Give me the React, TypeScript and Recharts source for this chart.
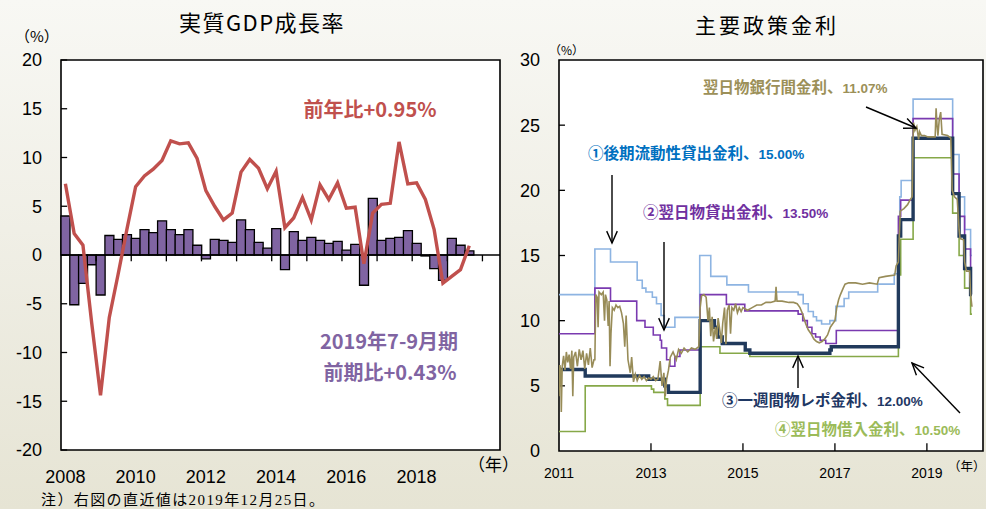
import React from 'react';
import { ComposedChart, Bar, Line, XAxis, YAxis, CartesianGrid, ReferenceLine, ReferenceArea } from 'recharts';

// ---- left: real GDP growth (quarterly) ----
const YEARS = [2008, 2009, 2010, 2011, 2012, 2013, 2014, 2015, 2016, 2017, 2018, 2019, 2020];
const QUARTERS = YEARS.flatMap((y) => ['Q1', 'Q2', 'Q3', 'Q4'].map((q) => `${y}${q}`)).slice(0, 50);
const GDP_QOQ = [
  4.0, -5.1, -2.9, -1.0, -4.1, 2.0, 1.6, 2.1, 1.7, 2.6, 2.3, 3.5, 2.6, 2.1, 2.6, 1.0,
  -0.4, 1.6, 1.5, 1.3, 3.6, 2.6, 1.3, 0.7, 2.7, -1.5, 2.4, 1.5, 1.8, 1.5, 1.2, 1.4,
  0.5, 1.1, -3.1, 5.8, 1.5, 1.7, 1.8, 2.5, 1.2, -0.1, -1.4, -2.6, 1.7, 1.0, 0.43,
];
const GDP_YOY = [
  7.3, 2.2, 1.0, -7.0, -14.4, -6.4, -2.0, 2.6, 7.0, 8.1, 8.8, 9.7, 11.7, 11.4, 11.5, 9.9,
  6.6, 5.0, 3.6, 4.3, 8.5, 9.8, 8.9, 6.8, 8.6, 2.8, 3.8, 5.9, 3.6, 7.2, 5.7, 7.4,
  4.8, 4.9, -0.9, 4.3, 5.2, 5.3, 11.6, 7.3, 7.4, 5.7, 2.6, -2.9, -2.2, -1.5, 0.95,
];
const GDP_YEAR_TICKS = ['2008Q1', '2010Q1', '2012Q1', '2014Q1', '2016Q1', '2018Q1'];
const GDP_Y_TICKS = [-20, -15, -10, -5, 0, 5, 10, 15, 20];
const YEAR_STARTS = [4, 8, 12, 16, 20, 24, 28, 32, 36, 40, 44, 48];

// ---- right: policy rates (daily, step changes) ----
const LATE_LIQUIDITY: [number, number][] = [
  [2011.0, 12.0], [2011.78, 15.5], [2012.12, 14.5], [2012.7, 13.1], [2012.81, 12.5], [2012.89, 12.2],
  [2013.03, 11.8], [2013.12, 11.3], [2013.22, 10.4], [2013.29, 9.5], [2013.52, 10.25], [2014.06, 15.0],
  [2014.3, 13.4], [2014.65, 12.75], [2015.12, 12.2], [2016.2, 12.0], [2016.31, 11.3], [2016.42, 10.7],
  [2016.53, 10.3], [2016.6, 10.0], [2016.71, 9.75], [2016.89, 10.0], [2017.02, 11.1], [2017.2, 11.7],
  [2017.3, 12.2], [2017.93, 12.8], [2018.29, 13.6], [2018.38, 16.5], [2018.41, 19.5], [2018.44, 20.75],
  [2018.7, 27.0], [2019.56, 22.75], [2019.7, 19.5], [2019.82, 17.0], [2019.95, 15.0], [2019.98, 15.0],
];
const ON_LENDING: [number, number][] = [
  [2011.0, 9.0], [2011.78, 12.5], [2012.12, 11.5], [2012.69, 10.0], [2012.87, 9.5], [2013.05, 8.9],
  [2013.2, 8.5], [2013.23, 7.9], [2013.34, 7.0], [2013.41, 6.5], [2013.52, 7.25], [2013.63, 7.75],
  [2014.07, 12.0], [2014.64, 11.25], [2015.04, 10.75], [2016.2, 10.5], [2016.3, 10.0], [2016.4, 9.5],
  [2016.5, 9.0], [2016.58, 8.75], [2016.68, 8.5], [2016.8, 8.25], [2017.03, 9.25], [2018.38, 18.0],
  [2018.43, 19.25], [2018.7, 25.5], [2019.56, 21.25], [2019.7, 18.0], [2019.82, 15.5], [2019.95, 13.5],
  [2019.98, 13.5],
];
const ONE_WEEK_REPO: [number, number][] = [
  [2011.0, 6.25], [2011.57, 5.75], [2012.95, 5.5], [2013.3, 5.0], [2013.38, 4.5], [2014.07, 10.0],
  [2014.38, 9.5], [2014.45, 8.75], [2014.55, 8.25], [2015.05, 7.75], [2015.15, 7.5], [2016.89, 7.75],
  [2016.92, 8.0], [2018.38, 16.5], [2018.43, 17.75], [2018.7, 24.0], [2019.56, 19.75], [2019.7, 16.5],
  [2019.82, 14.0], [2019.95, 12.0], [2019.98, 12.0],
];
const ON_BORROWING: [number, number][] = [
  [2011.0, 1.5], [2011.57, 5.0], [2013.01, 4.75], [2013.06, 4.5], [2013.3, 4.0], [2013.36, 3.5],
  [2014.07, 8.0], [2014.5, 7.5], [2015.15, 7.25], [2018.38, 13.5], [2018.43, 16.25], [2018.7, 22.5],
  [2019.56, 18.25], [2019.7, 15.0], [2019.82, 12.5], [2019.95, 10.5], [2019.98, 10.5],
];
const INTERBANK: [number, number][] = [
  [2011.0, 4.2], [2011.02, 6.6], [2011.04, 6.0], [2011.05, 3.0], [2011.07, 6.5], [2011.1, 7.3],
  [2011.13, 6.2], [2011.16, 7.6], [2011.19, 6.8], [2011.22, 7.4], [2011.25, 6.3], [2011.28, 7.7],
  [2011.3, 4.2], [2011.32, 7.2], [2011.36, 7.6], [2011.4, 6.5], [2011.44, 7.8], [2011.48, 7.0],
  [2011.52, 7.7], [2011.56, 6.3], [2011.6, 7.5], [2011.64, 6.6], [2011.68, 7.9], [2011.72, 6.4],
  [2011.76, 7.0], [2011.78, 7.0], [2011.8, 12.0], [2011.83, 11.8], [2011.85, 9.5], [2011.87, 12.2],
  [2011.92, 12.0], [2011.96, 12.2], [2011.99, 10.0], [2012.01, 12.0], [2012.04, 11.6], [2012.07, 9.6],
  [2012.09, 11.5], [2012.11, 6.5], [2012.13, 9.0], [2012.16, 11.0], [2012.2, 10.8], [2012.24, 11.2],
  [2012.28, 11.0], [2012.32, 11.1], [2012.36, 10.6], [2012.4, 9.8], [2012.43, 8.0], [2012.46, 10.4],
  [2012.5, 7.0], [2012.55, 6.0], [2012.58, 7.2], [2012.62, 5.3], [2012.66, 5.9], [2012.7, 5.4],
  [2012.75, 5.8], [2012.8, 5.5], [2012.85, 5.7], [2012.9, 5.4], [2012.95, 5.6], [2013.0, 5.5],
  [2013.05, 5.7], [2013.1, 5.4], [2013.15, 5.5], [2013.2, 6.9], [2013.24, 5.0], [2013.28, 6.0],
  [2013.31, 4.2], [2013.34, 5.5], [2013.38, 6.2], [2013.42, 7.2], [2013.48, 7.6], [2013.55, 7.0],
  [2013.6, 7.8], [2013.66, 7.5], [2013.72, 7.9], [2013.8, 7.6], [2013.88, 7.9], [2013.96, 7.8],
  [2014.04, 8.0], [2014.07, 11.0], [2014.1, 11.9], [2014.15, 12.0], [2014.2, 11.8], [2014.24, 10.0],
  [2014.27, 11.0], [2014.3, 8.8], [2014.33, 10.3], [2014.36, 8.4], [2014.4, 9.5], [2014.43, 8.6],
  [2014.46, 10.2], [2014.5, 9.2], [2014.53, 8.3], [2014.56, 9.8], [2014.6, 11.0], [2014.63, 8.2],
  [2014.66, 10.8], [2014.7, 11.2], [2014.73, 9.0], [2014.76, 11.0], [2014.8, 10.8], [2014.84, 11.3],
  [2014.88, 10.6], [2014.92, 11.0], [2014.96, 10.7], [2015.0, 11.0], [2015.1, 10.8], [2015.2, 11.0],
  [2015.3, 11.2], [2015.4, 11.2], [2015.5, 11.4], [2015.6, 11.4], [2015.7, 11.5], [2015.72, 12.6],
  [2015.74, 11.5], [2015.85, 11.5], [2016.0, 11.4], [2016.1, 11.4], [2016.18, 11.3], [2016.24, 11.0],
  [2016.3, 10.5], [2016.36, 9.8], [2016.42, 9.3], [2016.48, 9.0], [2016.54, 8.6], [2016.6, 8.4],
  [2016.66, 8.3], [2016.72, 8.4], [2016.78, 8.6], [2016.84, 8.9], [2016.9, 9.5], [2016.96, 9.8],
  [2017.0, 10.0], [2017.04, 11.0], [2017.08, 11.6], [2017.12, 12.0], [2017.18, 12.5], [2017.22, 12.8],
  [2017.3, 12.9], [2017.45, 12.9], [2017.6, 12.8], [2017.75, 12.9], [2017.92, 12.8], [2017.96, 13.3],
  [2018.1, 13.4], [2018.3, 13.5], [2018.33, 14.2], [2018.38, 14.5], [2018.4, 16.5], [2018.42, 18.4],
  [2018.5, 18.6], [2018.58, 18.9], [2018.64, 19.3], [2018.68, 19.5], [2018.7, 24.0], [2018.71, 25.2],
  [2018.74, 24.6], [2018.78, 24.9], [2018.82, 23.9], [2018.84, 24.5], [2018.88, 24.2], [2018.95, 24.2],
  [2019.02, 24.1], [2019.1, 24.1], [2019.18, 24.1], [2019.2, 26.3], [2019.22, 25.0], [2019.24, 24.2],
  [2019.27, 25.5], [2019.3, 26.0], [2019.33, 24.3], [2019.45, 24.2], [2019.52, 24.0], [2019.55, 20.0],
  [2019.6, 19.5], [2019.66, 19.3], [2019.7, 17.0], [2019.72, 16.3], [2019.8, 16.2], [2019.82, 14.5],
  [2019.86, 13.8], [2019.93, 13.8], [2019.95, 12.0], [2019.98, 11.07],
];
const RATE_X_TICKS = [2011, 2013, 2015, 2017, 2019];
const RATE_Y_TICKS = [0, 5, 10, 15, 20, 25, 30];

const JP = "'Noto Sans CJK JP', 'Noto Sans', sans-serif";
const NUM = "'Liberation Sans', Arial, sans-serif";

const gdpData = QUARTERS.map((q, i) => ({
  q,
  idx: i + 0.5,
  qoq: i < GDP_QOQ.length ? GDP_QOQ[i] : null,
  yoy: i < GDP_YOY.length ? GDP_YOY[i] : null,
}));
const toPts = (arr: [number, number][]) => arr.map(([t, v]) => ({ t, v }));

function Arrow({ x1, y1, x2, y2 }: { x1: number; y1: number; x2: number; y2: number }) {
  const a = Math.atan2(y2 - y1, x2 - x1);
  const L = 13;
  const w = 0.42;
  const p1 = `${x2 - L * Math.cos(a - w)},${y2 - L * Math.sin(a - w)}`;
  const p2 = `${x2 - L * Math.cos(a + w)},${y2 - L * Math.sin(a + w)}`;
  return (
    <g stroke="#000" strokeWidth={1.4} fill="none">
      <line x1={x1} y1={y1} x2={x2} y2={y2} />
      <polyline points={`${p1} ${x2},${y2} ${p2}`} />
    </g>
  );
}

function GdpChart() {
  return (
    <ComposedChart width={510} height={509} data={gdpData} margin={{ top: 60, right: 10, bottom: 29, left: 16 }} barCategoryGap={0}>
      <CartesianGrid horizontal={false} vertical={false} fill="#fff" />
      <XAxis
        dataKey="q"
        ticks={GDP_YEAR_TICKS}
        interval={0}
        tickFormatter={(q: string) => (GDP_YEAR_TICKS.includes(q) ? q.slice(0, 4) : '')}
        axisLine={false}
        tickLine={false}
        tickSize={0}
        tickMargin={20}
        height={30}
        tick={{ fill: '#000', fontSize: 18, fontFamily: NUM }}
      />
      <XAxis xAxisId="num" dataKey="idx" type="number" domain={[0, 50]} hide allowDataOverflow />
      <YAxis
        domain={[-20, 20]}
        ticks={GDP_Y_TICKS}
        width={45}
        axisLine={false}
        tickLine={false}
        tickSize={0}
        tickMargin={19}
        tick={{ fill: '#000', fontSize: 18, fontFamily: NUM }}
      />
      <Bar dataKey="qoq" fill="#8064a2" stroke="#000" strokeWidth={1.3} isAnimationActive={false} />
      <ReferenceLine y={0} stroke="#000" strokeWidth={1.6} />
      {YEAR_STARTS.map((k) => (
        <ReferenceLine key={k} xAxisId="num" segment={[{ x: k, y: 0 }, { x: k, y: -0.65 }]} stroke="#000" strokeWidth={1.3} />
      ))}
      {GDP_Y_TICKS.map((v) => (
        <ReferenceLine key={`y${v}`} xAxisId="num" segment={[{ x: 0, y: v }, { x: 0.7, y: v }]} stroke="#000" strokeWidth={1.3} />
      ))}
      <Line dataKey="yoy" stroke="#c0504d" strokeWidth={3.4} dot={false} isAnimationActive={false} />
      <ReferenceArea xAxisId="num" x1={0} x2={50} y1={-20} y2={20} fill="none" stroke="#000" strokeWidth={1.6} />
    </ComposedChart>
  );
}

function RateChart() {
  return (
    <ComposedChart width={486} height={509} margin={{ top: 60, right: 3, bottom: 28, left: 19 }}>
      <CartesianGrid horizontal={false} vertical={false} fill="#fff" />
      <XAxis
        dataKey="t"
        type="number"
        domain={[2011, 2020.22]}
        ticks={RATE_X_TICKS}
        allowDataOverflow
        axisLine={false}
        tickLine={false}
        tickSize={0}
        tickMargin={17}
        height={30}
        tick={{ fill: '#000', fontSize: 14, fontFamily: NUM }}
      />
      <YAxis
        domain={[0, 30]}
        ticks={RATE_Y_TICKS}
        width={40}
        axisLine={false}
        tickLine={false}
        tickSize={0}
        tickMargin={19}
        tick={{ fill: '#000', fontSize: 18, fontFamily: NUM }}
      />
      {RATE_X_TICKS.slice(1).map((t) => (
        <ReferenceLine key={t} segment={[{ x: t, y: 0 }, { x: t, y: 0.6 }]} stroke="#000" strokeWidth={1.3} />
      ))}
      {RATE_Y_TICKS.slice(1, -1).map((v) => (
        <ReferenceLine key={`y${v}`} segment={[{ x: 2011, y: v }, { x: 2011.13, y: v }]} stroke="#000" strokeWidth={1.3} />
      ))}
      <Line data={toPts(LATE_LIQUIDITY)} dataKey="v" type="stepAfter" stroke="#8db4e2" strokeWidth={1.6} dot={false} isAnimationActive={false} />
      <Line data={toPts(ON_BORROWING)} dataKey="v" type="stepAfter" stroke="#86a848" strokeWidth={1.6} dot={false} isAnimationActive={false} />
      <Line data={toPts(ON_LENDING)} dataKey="v" type="stepAfter" stroke="#7a3ab0" strokeWidth={1.6} dot={false} isAnimationActive={false} />
      <Line data={toPts(ONE_WEEK_REPO)} dataKey="v" type="stepAfter" stroke="#213a5c" strokeWidth={3.4} dot={false} isAnimationActive={false} />
      <Line data={toPts(INTERBANK)} dataKey="v" type="linear" stroke="#988c58" strokeWidth={1.6} dot={false} isAnimationActive={false} />
      <ReferenceArea x1={2011} x2={2020.22} y1={0} y2={30} fill="none" stroke="#000" strokeWidth={1.6} />
    </ComposedChart>
  );
}

function Note({ x, y, color, jp, num }: { x: number; y: number; color: string; jp: string; num: string }) {
  return (
    <text x={x} y={y} fill={color} fontFamily={JP} fontWeight="bold" fontSize={15.5}>
      {jp}
      <tspan fontFamily={NUM} fontSize={13.5}>{num}</tspan>
    </text>
  );
}

export default function App() {
  return (
    <div
      style={{
        position: 'absolute',
        left: 0,
        top: 0,
        width: 986,
        height: 509,
        overflow: 'hidden',
        background: 'linear-gradient(to bottom, #f8f8f4 0%, #f0efe6 45%, #e6e4d4 100%)',
      }}
    >
      <div style={{ position: 'absolute', left: 0, top: 0 }}>
        <GdpChart />
      </div>
      <div style={{ position: 'absolute', left: 500, top: 0 }}>
        <RateChart />
      </div>
      <svg width={986} height={509} style={{ position: 'absolute', left: 0, top: 0, pointerEvents: 'none' }}>
        <text x={262} y={31} textAnchor="middle" fontFamily={JP} fontSize={22} letterSpacing={1.5} fill="#000">実質GDP成長率</text>
        <text x={767} y={33} textAnchor="middle" fontFamily={JP} fontSize={21} letterSpacing={3} fill="#000">主要政策金利</text>
        <text x={15} y={42} fontFamily={JP} fontSize={15} fill="#000">（%）</text>
        <text x={549} y={55} fontFamily={JP} fontSize={12} fill="#000">（%）</text>
        <text x={468} y={471} fontFamily={JP} fontSize={17} fill="#000">（年）</text>
        <text x={948} y={471} fontFamily={JP} fontSize={12.5} fill="#000">（年）</text>
        <text x={41} y={505} fontFamily={"'Liberation Serif', 'Noto Sans CJK JP', serif"} fontSize={15} letterSpacing={1.4} fill="#000">注）右図の直近値は2019年12月25日。</text>

        <text x={370} y={117} textAnchor="middle" fontFamily={JP} fontWeight="bold" fontSize={20} fill="#c0504d">前年比+0.95%</text>
        <text x={389} y={349} textAnchor="middle" fontFamily={JP} fontWeight="bold" fontSize={20} fill="#8064a2">2019年7-9月期</text>
        <text x={390} y={380} textAnchor="middle" fontFamily={JP} fontWeight="bold" fontSize={20} fill="#8064a2">前期比+0.43%</text>

        <Note x={703} y={93} color="#9c9058" jp="翌日物銀行間金利、" num="11.07%" />
        <Note x={588} y={159} color="#0070c0" jp="①後期流動性貸出金利、" num="15.00%" />
        <Note x={643} y={218} color="#7030a0" jp="②翌日物貸出金利、" num="13.50%" />
        <Note x={722} y={406} color="#1f3864" jp="③一週間物レポ金利、" num="12.00%" />
        <Note x={775} y={435} color="#9bbb59" jp="④翌日物借入金利、" num="10.50%" />

        <Arrow x1={866} y1={107} x2={916} y2={128} />
        <Arrow x1={612} y1={175} x2={612} y2={243} />
        <Arrow x1={664} y1={242} x2={664} y2={330} />
        <Arrow x1={798} y1={388} x2={798} y2={356} />
        <Arrow x1={960} y1={413} x2={912} y2={363} />
      </svg>
    </div>
  );
}
